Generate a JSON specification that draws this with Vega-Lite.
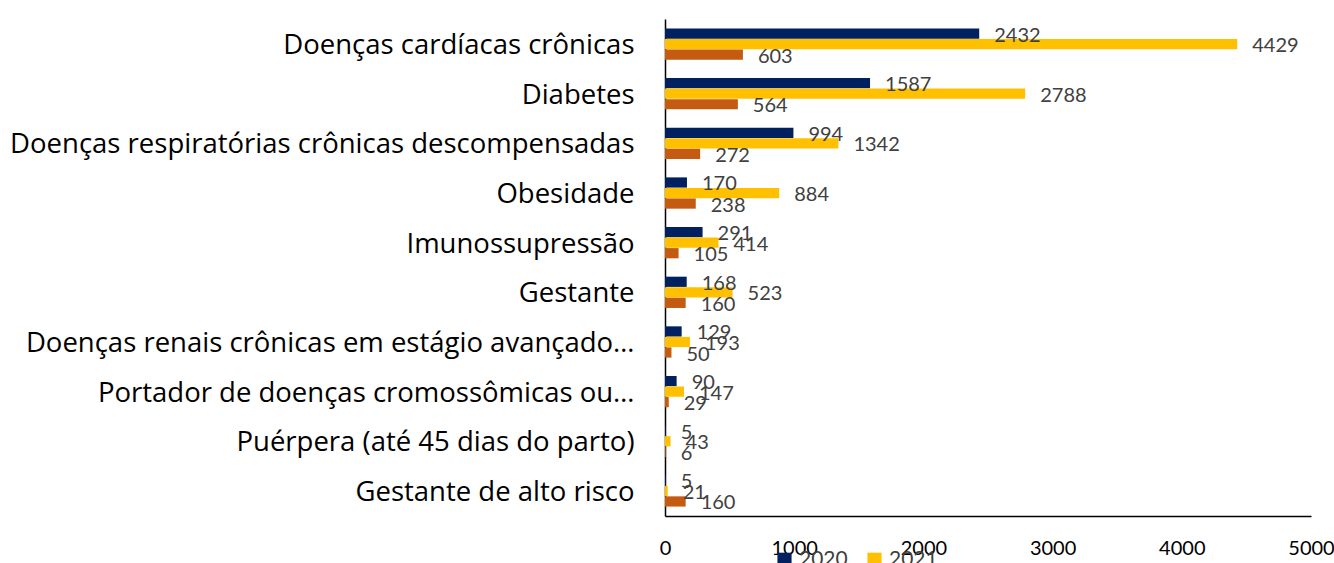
{
  "$schema": "https://vega.github.io/schema/vega-lite/v6.json",
  "autosize": "none",
  "width": 646,
  "height": 497,
  "padding": {"left": 665, "top": 19, "right": 23, "bottom": 47},
  "background": "white",
  "config": {"view": {"stroke": null}, "font": "Lato"},
  "data": {"values": [
    {"cat": "Doenças cardíacas crônicas", "year": "2020", "value": 2432},
    {"cat": "Doenças cardíacas crônicas", "year": "2021", "value": 4429},
    {"cat": "Doenças cardíacas crônicas", "year": "2022", "value": 603},
    {"cat": "Diabetes", "year": "2020", "value": 1587},
    {"cat": "Diabetes", "year": "2021", "value": 2788},
    {"cat": "Diabetes", "year": "2022", "value": 564},
    {"cat": "Doenças respiratórias crônicas descompensadas", "year": "2020", "value": 994},
    {"cat": "Doenças respiratórias crônicas descompensadas", "year": "2021", "value": 1342},
    {"cat": "Doenças respiratórias crônicas descompensadas", "year": "2022", "value": 272},
    {"cat": "Obesidade", "year": "2020", "value": 170},
    {"cat": "Obesidade", "year": "2021", "value": 884},
    {"cat": "Obesidade", "year": "2022", "value": 238},
    {"cat": "Imunossupressão", "year": "2020", "value": 291},
    {"cat": "Imunossupressão", "year": "2021", "value": 414},
    {"cat": "Imunossupressão", "year": "2022", "value": 105},
    {"cat": "Gestante", "year": "2020", "value": 168},
    {"cat": "Gestante", "year": "2021", "value": 523},
    {"cat": "Gestante", "year": "2022", "value": 160},
    {"cat": "Doenças renais crônicas em estágio avançado…", "year": "2020", "value": 129},
    {"cat": "Doenças renais crônicas em estágio avançado…", "year": "2021", "value": 193},
    {"cat": "Doenças renais crônicas em estágio avançado…", "year": "2022", "value": 50},
    {"cat": "Portador de doenças cromossômicas ou…", "year": "2020", "value": 90},
    {"cat": "Portador de doenças cromossômicas ou…", "year": "2021", "value": 147},
    {"cat": "Portador de doenças cromossômicas ou…", "year": "2022", "value": 29},
    {"cat": "Puérpera (até 45 dias do parto)", "year": "2020", "value": 5},
    {"cat": "Puérpera (até 45 dias do parto)", "year": "2021", "value": 43},
    {"cat": "Puérpera (até 45 dias do parto)", "year": "2022", "value": 6},
    {"cat": "Gestante de alto risco", "year": "2020", "value": 5},
    {"cat": "Gestante de alto risco", "year": "2021", "value": 21},
    {"cat": "Gestante de alto risco", "year": "2022", "value": 160}
  ]},
  "encoding": {
    "y": {
      "field": "cat", "type": "nominal", "sort": null, "title": null,
      "scale": {"paddingInner": 0.37, "paddingOuter": 0.19},
      "axis": {"ticks": false, "labelPadding": 31, "labelOffset": 2, "labelFontSize": 27.5, "labelFont": "Open Sans", "labelColor": "#000000", "labelLimit": 700, "domainColor": "#000000", "domainWidth": 1.5}
    },
    "yOffset": {"field": "year", "type": "nominal", "sort": ["2020", "2021", "2022"], "scale": {"paddingInner": 0.03}},
    "x": {
      "field": "value", "type": "quantitative", "title": null,
      "scale": {"domain": [0, 5000], "nice": false},
      "axis": {"values": [0, 1000, 2000, 3000, 4000, 5000], "format": "d", "grid": false, "ticks": false, "labelPadding": 22, "labelFontSize": 20, "labelColor": "#000000", "domainColor": "#000000", "domainWidth": 1.5, "labelFlush": false}
    }
  },
  "layer": [
    {
      "mark": {"type": "bar"},
      "encoding": {
        "color": {
          "field": "year", "type": "nominal",
          "scale": {"domain": ["2020", "2021", "2022"], "range": ["#002060", "#FFC000", "#C55A11"]},
          "legend": {"title": null, "orient": "none", "legendX": 109, "legendY": 530, "direction": "horizontal", "columns": 2, "symbolType": "square", "symbolSize": 200, "symbolStrokeWidth": 0, "labelFontSize": 21, "labelColor": "#404040", "labelOffset": 4, "columnPadding": 16, "symbolOffset": 0}
        }
      }
    },
    {
      "mark": {"type": "text", "align": "left", "baseline": "middle", "dx": 15, "dy": 2, "fontSize": 20, "color": "#404040"},
      "encoding": {"text": {"field": "value", "type": "quantitative"}}
    }
  ]
}
